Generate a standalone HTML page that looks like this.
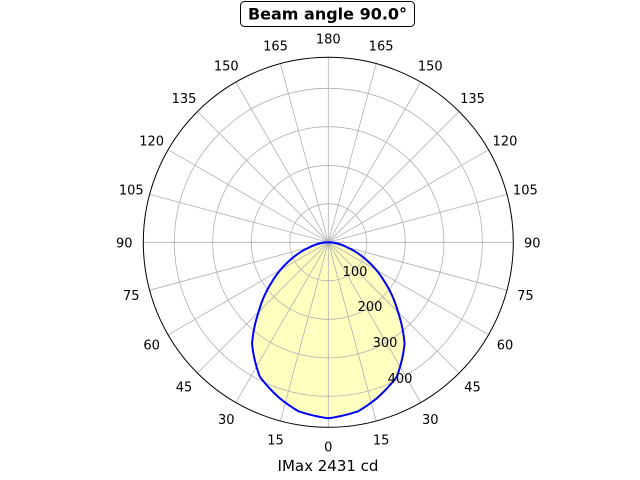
<!DOCTYPE html>
<html><head><meta charset="utf-8"><style>
html,body{margin:0;padding:0;background:#fff;width:640px;height:480px;overflow:hidden}
svg text{font-family:"DejaVu Sans","Liberation Sans",sans-serif}
</style></head><body>
<svg id="s" width="640" height="480" viewBox="0 0 640 480" xmlns="http://www.w3.org/2000/svg">
<rect width="640" height="480" fill="#fff"/>
<path id="fill" fill="#ffffc0" stroke="none"/>
<g id="grid" stroke="#b0b0b0" stroke-width="0.8" fill="none"></g>
<path id="curve" fill="none" stroke="#0000ff" stroke-width="2"/>
<circle cx="328.3" cy="242.3" r="185" fill="none" stroke="#000" stroke-width="1"/>
<g id="lbl" font-size="13" fill="#000" text-anchor="middle"></g>
<g font-size="13" fill="#000" text-anchor="middle">
<text x="355" y="276">100</text>
<text x="370" y="311">200</text>
<text x="385" y="347">300</text>
<text x="400" y="383">400</text>
</g>
<rect x="240.5" y="1.5" width="174" height="25" rx="4" fill="#fff" stroke="#000" stroke-width="1"/>
<text x="327.5" y="19.5" font-size="16" font-weight="bold" text-anchor="middle">Beam angle 90.0°</text>
<text x="328" y="471" font-size="15" text-anchor="middle">IMax 2431 cd</text>
</svg>
<script>
var cx=328.3,cy=242.3,R=185,ns="http://www.w3.org/2000/svg";
var g=document.getElementById('grid'),L=document.getElementById('lbl');
[38.5,77,115.6,154].forEach(function(r){var c=document.createElementNS(ns,'circle');c.setAttribute('cx',cx);c.setAttribute('cy',cy);c.setAttribute('r',r);g.appendChild(c);});
for(var a=0;a<360;a+=15){var t=a*Math.PI/180;var x=cx+R*Math.sin(t),y=cy+R*Math.cos(t);
var l=document.createElementNS(ns,'line');l.setAttribute('x1',cx);l.setAttribute('y1',cy);l.setAttribute('x2',x);l.setAttribute('y2',y);g.appendChild(l);
var lab=a<=180?a:360-a;var tx=document.createElementNS(ns,'text');tx.setAttribute('x',cx+204*Math.sin(t));tx.setAttribute('y',cy+204*Math.cos(t)+5);tx.textContent=lab;L.appendChild(tx);}
var tab=[[0,1],[10,0.975],[17,0.93],[27,0.857],[37,0.72],[45,0.56],[55,0.39],[65,0.24],[75,0.11],[90,0]];
function f(d){d=Math.abs(d);if(d>=90)return 0;for(var i=1;i<tab.length;i++){if(d<=tab[i][0]){var a=tab[i-1],b=tab[i];var u=(d-a[0])/(b[0]-a[0]);return a[1]+(b[1]-a[1])*u;}}return 0;}
var d='';for(var a=-90;a<=90;a+=1){var r=176*f(a),t=a*Math.PI/180;d+=(a==-90?'M':'L')+(cx+r*Math.sin(t)).toFixed(2)+' '+(cy+r*Math.cos(t)).toFixed(2);}
document.getElementById('curve').setAttribute('d',d);document.getElementById('fill').setAttribute('d',d+'Z');
</script>
</body></html>
